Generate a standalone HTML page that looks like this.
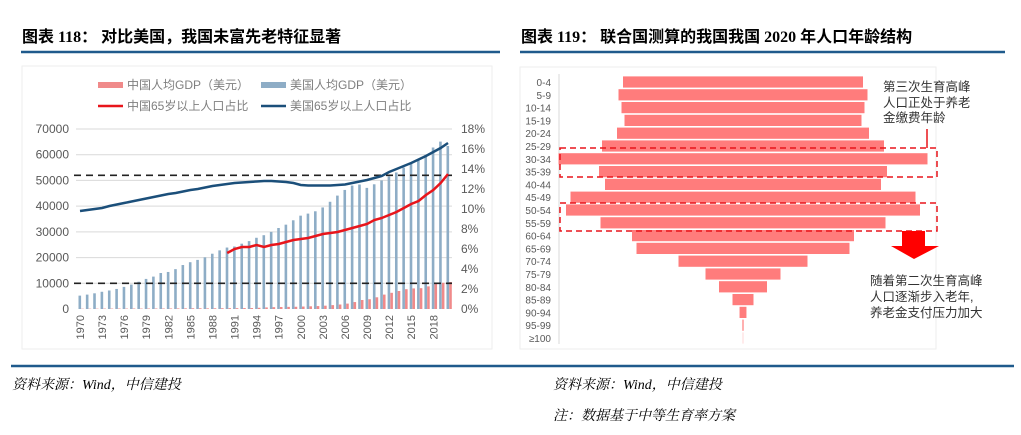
<!DOCTYPE html>
<html><head><meta charset="utf-8"><style>
body{margin:0;background:#fff;}
svg{display:block;font-family:"Liberation Sans","Noto Sans CJK SC",sans-serif;}
.t{font-family:"Liberation Serif","Noto Serif CJK SC","Noto Sans CJK SC",serif;}
.h{font-family:"Liberation Serif","Noto Sans CJK SC",sans-serif;}
</style></head><body>
<svg id="s" width="1021" height="435" viewBox="0 0 1021 435">
<text x="22" y="42" font-size="16" font-weight="bold" class="h">图表 118：  对比美国，我国未富先老特征显著</text>
<line x1="21" y1="52" x2="500" y2="52" stroke="#1f5a8c" stroke-width="2.5"/>
<text x="521" y="42" font-size="16" font-weight="bold" class="h">图表 119：   联合国测算的我国我国 2020 年人口年龄结构</text>
<line x1="520" y1="52" x2="1005" y2="52" stroke="#1f5a8c" stroke-width="2.5"/>
<rect x="22" y="66" width="470" height="283" fill="none" stroke="#eee"/>
<rect x="520" y="67" width="416" height="282" fill="none" stroke="#eee"/>
<g id="left"></g>
<g id="right"></g>
<line x1="11" y1="366" x2="1014" y2="366" stroke="#1f5a8c" stroke-width="2.5"/>
<text x="12" y="389" font-size="14" font-style="italic" class="t">资料来源：Wind，中信建投</text>
<text x="553" y="389" font-size="14" font-style="italic" class="t">资料来源：Wind，中信建投</text>
<text x="553" y="420" font-size="14" font-style="italic" class="t">注：数据基于中等生育率方案</text>
</svg>
<script>
const years=[];for(let y=1970;y<=2020;y++)years.push(y);
const usGdp=[5200,5600,6100,6700,7200,7800,8600,9500,10600,11700,12600,14000,14400,15500,17100,18200,19100,20100,21500,22800,23900,24300,25400,26400,27700,28700,30000,31500,32800,34500,36300,37100,38000,39500,41700,44100,46300,48000,48400,47100,48500,50000,51600,53100,55000,56800,57900,60000,62800,65100,63400];
const cnGdp=[110,120,130,160,160,180,160,190,160,180,190,200,200,220,250,290,280,250,280,310,320,330,370,380,470,610,710,780,830,870,960,1050,1140,1290,1510,1750,2100,2700,3500,3800,4550,5600,6300,7000,7700,8000,8100,8800,9900,10200,10500];
const usOld=[9.8,9.9,10.0,10.1,10.3,10.45,10.6,10.75,10.9,11.05,11.2,11.35,11.5,11.6,11.75,11.9,12.0,12.15,12.3,12.4,12.5,12.6,12.65,12.7,12.75,12.8,12.8,12.75,12.7,12.6,12.4,12.35,12.35,12.35,12.35,12.4,12.45,12.6,12.75,12.9,13.1,13.3,13.7,14.0,14.3,14.6,14.95,15.3,15.7,16.1,16.6];
const cnOldYears=[1990,1991,1992,1993,1994,1995,1996,1997,1998,1999,2000,2001,2002,2003,2004,2005,2006,2007,2008,2009,2010,2011,2012,2013,2014,2015,2016,2017,2018,2019,2020];
const cnOld=[5.6,6.0,6.2,6.2,6.4,6.2,6.4,6.5,6.7,6.9,7.0,7.1,7.3,7.5,7.6,7.7,7.9,8.1,8.3,8.5,8.9,9.1,9.4,9.7,10.1,10.5,10.8,11.4,11.9,12.6,13.5];
const leftTicks=[0,10000,20000,30000,40000,50000,60000,70000];
const rightTicks=[0,2,4,6,8,10,12,14,16,18];
const refLines=[52000,10000];
const ages=["0-4","5-9","10-14","15-19","20-24","25-29","30-34","35-39","40-44","45-49","50-54","55-59","60-64","65-69","70-74","75-79","80-84","85-89","90-94","95-99","≥100"];
const pop=[80,83,81,79,84,94,123,96,92,115,118,95,74,71,43,25,16,7,2.3,0.4,0.1];
const NS="http://www.w3.org/2000/svg";
function mk(p,tag,at,txt){const e=document.createElementNS(NS,tag);for(const k in at)e.setAttribute(k,at[k]);if(txt!==undefined)e.textContent=txt;p.appendChild(e);return e;}
const L=document.getElementById('left');
const x0=76,x1=452,yB=309,yT=129;
const yL=v=>yB-(v/70000)*(yB-yT);
const yR=v=>yB-(v/18)*(yB-yT);
const step=(448-80)/(years.length-1);
const xY=y=>80+(y-1970)*step;
leftTicks.forEach(v=>{
 if(v>0){const g=mk(L,'line',{x1:x0,x2:x1,y1:yL(v),y2:yL(v),stroke:'#d9d9d9','stroke-width':1});
 
 }
 const t=mk(L,'text',{x:69,y:yL(v)+4,'font-size':12,'text-anchor':'end',fill:'#595959'},String(v));
 
 
});
rightTicks.forEach(v=>{
 const t=mk(L,'text',{x:461,y:yR(v)+4,'font-size':12,fill:'#595959'},v+'%');
 
 
});
years.forEach((y,i)=>{
 const b=mk(L,'rect',{x:xY(y)-1.5,y:yL(usGdp[i]),width:2.6,height:yB-yL(usGdp[i]),fill:'#8eadc6'});
 
 
 const c=mk(L,'rect',{x:xY(y)+1.2,y:yL(cnGdp[i]),width:2.6,height:yB-yL(cnGdp[i]),fill:'#f08a8a'});
 
 
 if((y-1970)%3===0){const t=mk(L,'text',{x:0,y:0,'font-size':11,fill:'#595959','text-anchor':'end',transform:`translate(${xY(y)+4},${yB+6}) rotate(-90)`},String(y));
 
 }
});
refLines.forEach(v=>{const l=mk(L,'line',{x1:x0-2,x2:x1,y1:yL(v),y2:yL(v),stroke:'#222','stroke-width':1.6,'stroke-dasharray':'7,5'});
 
 });
const us=mk(L,'polyline',{points:years.map((y,i)=>xY(y)+','+yR(usOld[i])).join(' '),fill:'none',stroke:'#1b4f7a','stroke-width':2.5});


const cn=mk(L,'polyline',{points:cnOldYears.map((y,i)=>xY(y)+','+yR(cnOld[i])).join(' '),fill:'none',stroke:'#e8151b','stroke-width':2.5});


const leg=[[98,85,'rect','#f08a8a','中国人均GDP（美元）'],[261,85,'rect','#8eadc6','美国人均GDP（美元）'],[98,106,'line','#e8151b','中国65岁以上人口占比'],[261,106,'line','#1b4f7a','美国65岁以上人口占比']];
leg.forEach(d=>{
 const s=d[2]==='rect'?mk(L,'rect',{x:d[0],y:d[1]-3,width:25,height:6,fill:d[3]}):mk(L,'line',{x1:d[0],x2:d[0]+25,y1:d[1],y2:d[1],stroke:d[3],'stroke-width':2.5});
 
 
 const t=mk(L,'text',{x:d[0]+29,y:d[1]+4,'font-size':12,fill:'#7f7f7f'},d[4]);
 
 
});
const R=document.getElementById('right');
const cx=743,r0=82,rs=12.8,sc=3;
const ax=mk(R,'line',{x1:559,x2:559,y1:74,y2:344,stroke:'#d9d9d9'});


ages.forEach((a,i)=>{
 const y=r0+i*rs;
 const t=mk(R,'text',{x:551,y:y+4,'font-size':10,fill:'#595959','text-anchor':'end'},a);
 
 
 const w=pop[i]*sc;
 const b=mk(R,'rect',{x:cx-w/2,y:y-5.6,width:w,height:11.2,fill:'#ff7c7c'});
 
 
});
[[148,177],[203,231]].forEach(b=>{const r=mk(R,'rect',{x:560,y:b[0],width:377,height:b[1]-b[0],fill:'none',stroke:'#e8151b','stroke-width':1.5,'stroke-dasharray':'6,4'});
 
 });
const ln=mk(R,'line',{x1:927,x2:927,y1:129,y2:148,stroke:'#e8151b','stroke-width':1.5});


const ar=mk(R,'polygon',{points:'902,231 925,231 925,246 939,246 914,259 891,246 902,246',fill:'#f00'});


[['第三次生育高峰',883,91],['人口正处于养老',883,107],['金缴费年龄',883,122],['随着第二次生育高峰',870,285],['人口逐渐步入老年,',870,301],['养老金支付压力加大',870,317]].forEach(d=>{
 const t=mk(R,'text',{x:d[1],y:d[2],'font-size':12.5,fill:'#333'},d[0]);
 
 
});
</script>
</body></html>
